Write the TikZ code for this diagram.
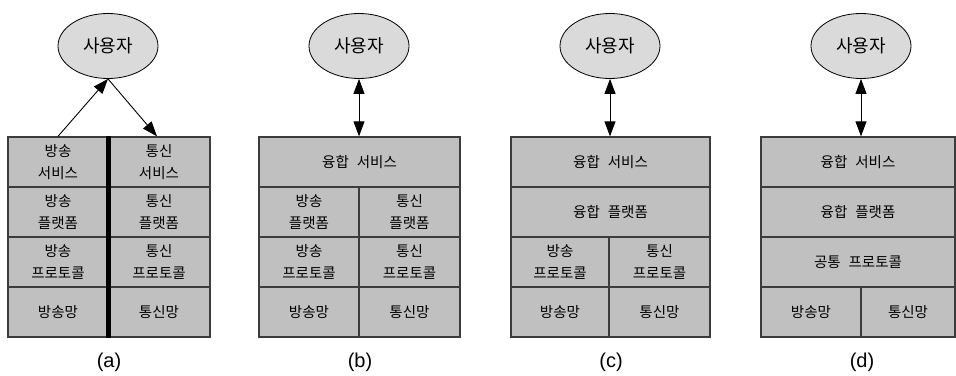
\documentclass[tikz,border=0pt]{standalone}
\usepackage{fontspec}
\setmainfont{Noto Sans CJK KR}
\newfontfamily\labfont{Liberation Sans}
\usetikzlibrary{arrows.meta,shapes.geometric}
\definecolor{cellgray}{RGB}{192,192,192}
\definecolor{usergray}{RGB}{218,218,218}
\definecolor{edgegray}{RGB}{60,60,60}
\newcommand{\wsp}{\hspace{0.55em}}
\tikzset{
  cell/.style={draw=edgegray, line width=1.3pt, fill=cellgray, inner sep=0pt,
    align=center, font=\fontsize{14.5}{22}\selectfont},
  userell/.style={ellipse, draw=black, line width=0.8pt, fill=usergray,
    minimum width=100pt, minimum height=65pt, inner sep=0pt,
    font=\fontsize{18}{20}\selectfont},
  conn/.style={line width=0.9pt, draw=black},
  onetip/.style={-{Triangle[length=15pt,width=11pt]}},
  twotip/.style={{Triangle[length=15pt,width=11pt]}-{Triangle[length=15pt,width=11pt]}},
  caplabel/.style={font=\labfont\fontsize{20}{22}\selectfont},
  thickdiv/.style={line width=4.5pt, draw=black}
}
\begin{document}
\begin{tikzpicture}[x=1pt,y=-1pt]
\useasboundingbox (0,0) rectangle (956,375);
% ---------- (a)
\node[userell] (ua) at (108,46) {사용자};
\node[cell, minimum width=100pt, minimum height=50pt] (a11) at (58,162) {방송\\서비스};
\node[cell, minimum width=102pt, minimum height=50pt] (a12) at (159,162) {통신\\서비스};
\node[cell, minimum width=100pt, minimum height=50pt] (a21) at (58,212) {방송\\플랫폼};
\node[cell, minimum width=102pt, minimum height=50pt] (a22) at (159,212) {통신\\플랫폼};
\node[cell, minimum width=100pt, minimum height=50pt] (a31) at (58,262) {방송\\프로토콜};
\node[cell, minimum width=102pt, minimum height=50pt] (a32) at (159,262) {통신\\프로토콜};
\node[cell, minimum width=100pt, minimum height=50pt] (a41) at (58,312) {방송망};
\node[cell, minimum width=102pt, minimum height=50pt] (a42) at (159,312) {통신망};
\draw[thickdiv] (a11.north east) -- (a41.south east);
\draw[conn, onetip] (a11.north) -- (ua.south);
\draw[conn, onetip] (ua.south) -- ([xshift=-2pt]a12.north);
\node[caplabel] (la) at (109,362) {(a)};
% ---------- (b)
\node[userell] (ub) at (359,46) {사용자};
\node[cell, minimum width=201pt, minimum height=50pt] (b1) at (359.5,162) {융합\wsp 서비스};
\node[cell, minimum width=100pt, minimum height=50pt] (b21) at (309,212) {방송\\플랫폼};
\node[cell, minimum width=101pt, minimum height=50pt] (b22) at (409.5,212) {통신\\플랫폼};
\node[cell, minimum width=100pt, minimum height=50pt] (b31) at (309,262) {방송\\프로토콜};
\node[cell, minimum width=101pt, minimum height=50pt] (b32) at (409.5,262) {통신\\프로토콜};
\node[cell, minimum width=100pt, minimum height=50pt] (b41) at (309,312) {방송망};
\node[cell, minimum width=101pt, minimum height=50pt] (b42) at (409.5,312) {통신망};
\draw[conn, twotip] (ub.south) -- (ub.south |- b1.north);
\node[caplabel] (lb) at (360,362) {(b)};
% ---------- (c)
\node[userell] (uc) at (610,46) {사용자};
\node[cell, minimum width=199pt, minimum height=50pt] (c1) at (610.5,162) {융합\wsp 서비스};
\node[cell, minimum width=199pt, minimum height=50pt] (c2) at (610.5,212) {융합\wsp 플랫폼};
\node[cell, minimum width=98pt, minimum height=50pt] (c31) at (560,262) {방송\\프로토콜};
\node[cell, minimum width=101pt, minimum height=50pt] (c32) at (659.5,262) {통신\\프로토콜};
\node[cell, minimum width=98pt, minimum height=50pt] (c41) at (560,312) {방송망};
\node[cell, minimum width=101pt, minimum height=50pt] (c42) at (659.5,312) {통신망};
\draw[conn, twotip] (uc.south) -- (uc.south |- c1.north);
\node[caplabel] (lc) at (611,362) {(c)};
% ---------- (d)
\node[userell] (ud) at (861,46) {사용자};
\node[cell, minimum width=194pt, minimum height=50pt] (d1) at (858,162) {융합\wsp 서비스};
\node[cell, minimum width=194pt, minimum height=50pt] (d2) at (858,212) {융합\wsp 플랫폼};
\node[cell, minimum width=194pt, minimum height=50pt] (d3) at (858,262) {공통\wsp 프로토콜};
\node[cell, minimum width=100pt, minimum height=50pt] (d41) at (811,312) {방송망};
\node[cell, minimum width=94pt, minimum height=50pt] (d42) at (908,312) {통신망};
\draw[conn, twotip] (ud.south) -- (ud.south |- d1.north);
\node[caplabel] (ld) at (862,362) {(d)};
\end{tikzpicture}
\end{document}
